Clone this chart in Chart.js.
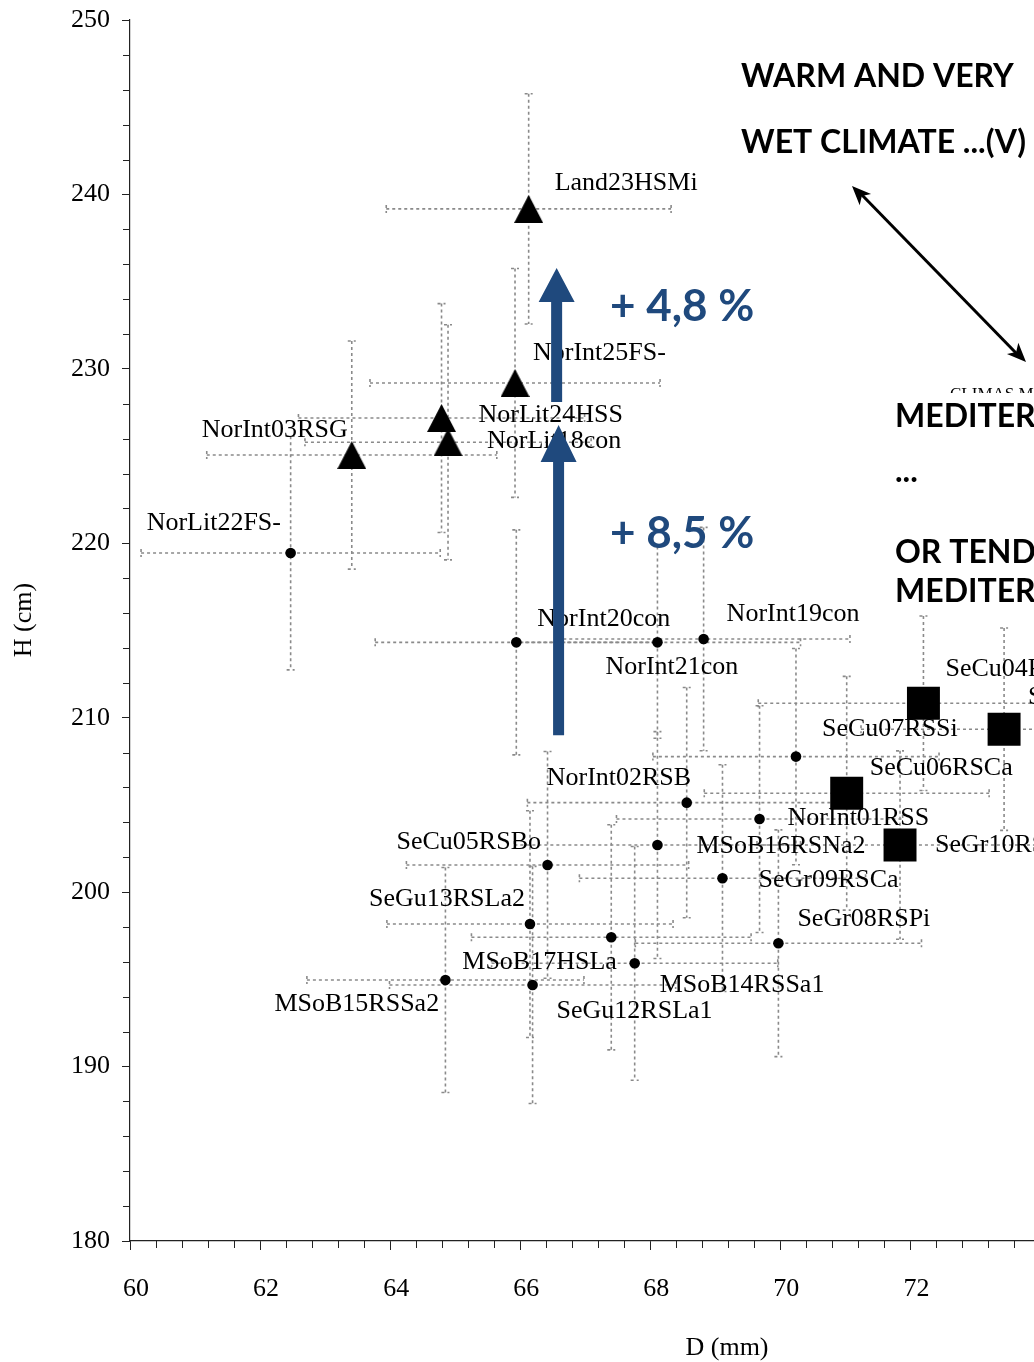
<!DOCTYPE html>
<html>
<head>
<meta charset="utf-8">
<script src="https://cdn.jsdelivr.net/npm/chart.js@4.4.1/dist/chart.umd.min.js"></script>
<style>
  body { margin: 0; background: #fff; }
  #wrap { width: 1034px; height: 1362px; }
</style>
</head>
<body>
<div id="wrap"><canvas id="chart" width="1034" height="1362"></canvas></div>
<script>
// triangles
const triNames = ['Land23HSMi', 'NorInt25FS-', 'NorLit24HSS', 'NorLit18con', 'NorInt03RSG'];
const triD = [66.13, 65.92, 64.79, 64.89, 63.41];
const triH = [239.17, 229.19, 227.18, 225.79, 225.06];
const triDerr = [2.19, 2.23, 2.2, 2.2, 2.23];
const triHerr = [6.6, 6.56, 6.56, 6.74, 6.54];

// circles
const cirNames = ['NorLit22FS-', 'NorInt20con', 'NorInt21con', 'NorInt19con', 'SeCu07RSSi', 'NorInt02RSB',
  'NorInt01RSS', 'MSoB16RSNa2', 'SeCu05RSBo', 'SeGr09RSCa', 'SeGu13RSLa2', 'MSoB17HSLa',
  'SeGr08RSPi', 'MSoB14RSSa1', 'MSoB15RSSa2', 'SeGu12RSLa1'];
const cirD = [62.47, 65.94, 68.11, 68.82, 70.24, 68.56, 69.68, 68.11, 66.42, 69.11, 66.15, 67.40, 69.97, 67.76, 64.85, 66.19];
const cirH = [219.44, 214.32, 214.32, 214.51, 207.77, 205.13, 204.19, 202.70, 201.56, 200.80, 198.17, 197.41, 197.07, 195.92, 194.96, 194.68];
const cirDerr = [2.3, 2.17, 2.2, 2.25, 2.2, 2.45, 2.2, 2.2, 2.17, 2.2, 2.2, 2.15, 2.2, 2.2, 2.13, 2.2];
const cirHerr = [6.7, 6.45, 5.5, 6.4, 6.2, 6.6, 6.5, 6.5, 6.5, 6.5, 6.5, 6.45, 6.5, 6.7, 6.45, 6.8];

// squares
const sqNames = ['SeCu04RS', 'SeCu03RS', 'SeCu06RSCa', 'SeGr10RS'];
const sqD = [72.20, 73.44, 71.02, 71.84];
const sqH = [210.83, 209.34, 205.67, 202.70];
const sqDerr = [2.54, 2.2, 2.19, 2.2];
const sqHerr = [5.0, 5.8, 6.7, 5.4];

// label offsets from the marker, px (left edge of text, text middle)
const triLab = [[26, -26], [18, -30], [37, -3], [39, -1], [-150, -25]];
const cirLab = [[-144, -30], [21, -23], [-52, 25], [23, -25], [26, -27], [-140, -24], [28, -1], [39, 1],
  [-151, -23], [36, 2], [-161, -25], [-149, 25], [19, -24], [25, 22], [-171, 24], [24, 26]];
const sqLab = [[22, -34], [24, -32], [23, -25], [35, 0]];

const xTicks = [60, 62, 64, 66, 68, 70, 72];
const yTicks = [180, 190, 200, 210, 220, 230, 240, 250];

const groups = [
  { names: triNames, d: triD, h: triH, dErr: triDerr, hErr: triHerr, lab: triLab },
  { names: cirNames, d: cirD, h: cirH, dErr: cirDerr, hErr: cirHerr, lab: cirLab },
  { names: sqNames, d: sqD, h: sqH, dErr: sqDerr, hErr: sqHerr, lab: sqLab }
];

const blue = '#1f497d';
const serif = '"Liberation Serif", "Times New Roman", serif';

// triangle marker centred on its box, like Excel
const tri = document.createElement('canvas');
tri.width = 29; tri.height = 28;
const tc = tri.getContext('2d');
tc.fillStyle = '#000';
tc.beginPath(); tc.moveTo(14.5, 0); tc.lineTo(29, 28); tc.lineTo(0, 28); tc.closePath(); tc.fill();

function pts(d, h) { return d.map((v, i) => ({ x: v, y: h[i] })); }

function blockArrow(ctx, cx, yTail, yTip, shaftW, headW, headH) {
  ctx.beginPath();
  ctx.moveTo(cx - shaftW / 2, yTail);
  ctx.lineTo(cx - shaftW / 2, yTip + headH);
  ctx.lineTo(cx - headW / 2, yTip + headH);
  ctx.lineTo(cx, yTip);
  ctx.lineTo(cx + headW / 2, yTip + headH);
  ctx.lineTo(cx + shaftW / 2, yTip + headH);
  ctx.lineTo(cx + shaftW / 2, yTail);
  ctx.closePath();
  ctx.fill();
}

function head(ctx, x, y, ang) {
  const L = 19, W = 8;
  const bx = x - Math.cos(ang) * L, by = y - Math.sin(ang) * L;
  ctx.beginPath();
  ctx.moveTo(x, y);
  ctx.lineTo(bx + Math.sin(ang) * W, by - Math.cos(ang) * W);
  ctx.lineTo(bx + Math.cos(ang) * 5, by + Math.sin(ang) * 5);
  ctx.lineTo(bx - Math.sin(ang) * W, by + Math.cos(ang) * W);
  ctx.closePath();
  ctx.fill();
}

const extras = {
  id: 'extras',
  beforeDatasetsDraw(chart) {
    const { ctx, scales: { x, y } } = chart;
    ctx.save();
    // minor ticks
    ctx.strokeStyle = '#222';
    ctx.lineWidth = 1;
    ctx.beginPath();
    for (let k = 0; k * 0.4 + 60 < x.max; k++) {
      if (k % 5 === 0) continue;
      const px = Math.round(x.getPixelForValue(60 + k * 0.4)) + 0.5;
      ctx.moveTo(px, y.bottom); ctx.lineTo(px, y.bottom + 7);
    }
    for (let v = 182; v < 250; v += 2) {
      if (v % 10 === 0) continue;
      const py = Math.round(y.getPixelForValue(v)) + 0.5;
      ctx.moveTo(x.left - 7, py); ctx.lineTo(x.left, py);
    }
    ctx.stroke();

    // error bars
    ctx.strokeStyle = '#8a8a8a';
    ctx.lineWidth = 1.6;
    ctx.setLineDash([3, 3]);
    groups.forEach(g => {
      g.d.forEach((d, i) => {
        const px = x.getPixelForValue(d), py = y.getPixelForValue(g.h[i]);
        const x0 = x.getPixelForValue(d - g.dErr[i]), x1 = x.getPixelForValue(d + g.dErr[i]);
        const y0 = y.getPixelForValue(g.h[i] + g.hErr[i]), y1 = y.getPixelForValue(g.h[i] - g.hErr[i]);
        ctx.beginPath();
        ctx.moveTo(x0, py); ctx.lineTo(x1, py);
        ctx.moveTo(x0, py - 4); ctx.lineTo(x0, py + 4);
        ctx.moveTo(x1, py - 4); ctx.lineTo(x1, py + 4);
        ctx.moveTo(px, y0); ctx.lineTo(px, y1);
        ctx.moveTo(px - 4, y0); ctx.lineTo(px + 4, y0);
        ctx.moveTo(px - 4, y1); ctx.lineTo(px + 4, y1);
        ctx.stroke();
      });
    });
    ctx.restore();
  },
  afterDatasetsDraw(chart) {
    const { ctx, scales: { x, y } } = chart;
    ctx.save();
    // point labels
    ctx.fillStyle = '#000';
    ctx.font = '26px ' + serif;
    ctx.textBaseline = 'middle';
    ctx.textAlign = 'left';
    groups.forEach(g => {
      g.names.forEach((n, i) => {
        const px = x.getPixelForValue(g.d[i]), py = y.getPixelForValue(g.h[i]);
        ctx.fillText(n, px + g.lab[i][0], py + g.lab[i][1]);
      });
    });

    // axis titles
    ctx.textAlign = 'center';
    ctx.fillText('D (mm)', 727, 1348);
    ctx.save();
    ctx.translate(24, 620);
    ctx.rotate(-Math.PI / 2);
    ctx.fillText('H (cm)', 0, 0);
    ctx.restore();

    // blue growth arrows
    ctx.fillStyle = blue;
    blockArrow(ctx, x.getPixelForValue(66.56), y.getPixelForValue(228.1), y.getPixelForValue(235.78), 11, 36, 34);
    blockArrow(ctx, x.getPixelForValue(66.59), y.getPixelForValue(209.0), y.getPixelForValue(226.78), 11, 36, 37);
    ctx.textAlign = 'left';
    ctx.textBaseline = 'alphabetic';
    ctx.font = 'bold 44px Lato, "Open Sans", sans-serif';
    ctx.fillText('+ 4,8 %', 610, 321);
    ctx.fillText('+ 8,5 %', 610, 548);

    // climate captions
    ctx.fillStyle = '#000';
    ctx.font = 'bold 32px Lato, "Open Sans", sans-serif';
    ctx.fillText('WARM AND VERY', 741, 87);
    ctx.fillText('WET CLIMATE ...(V)', 741, 153);
    ctx.fillText('MEDITERRANEAN', 895, 427);
    ctx.fillText('...', 895, 482);
    ctx.fillText('OR TENDING TO', 895, 563);
    ctx.fillText('MEDITERRANEAN', 895, 602);

    ctx.save();
    ctx.beginPath();
    ctx.rect(0, 0, 1034, 393);
    ctx.clip();
    ctx.font = '17px ' + serif;
    ctx.fillText('CLIMAS MEDITERRÁNEOS', 950, 399);
    ctx.restore();

    // double arrow
    ctx.strokeStyle = '#000';
    ctx.lineWidth = 3;
    ctx.beginPath();
    ctx.moveTo(862, 195); ctx.lineTo(1016, 353);
    ctx.stroke();
    const ang = Math.atan2(362 - 186, 1026 - 852);
    head(ctx, 1026, 362, ang);
    head(ctx, 852, 186, ang + Math.PI);
    ctx.restore();
  }
};

new Chart(document.getElementById('chart'), {
  type: 'scatter',
  data: {
    datasets: [
      { label: 'tri', data: pts(triD, triH), pointStyle: tri, pointRadius: 15 },
      { label: 'cir', data: pts(cirD, cirH), pointStyle: 'circle', pointRadius: 5.3,
        backgroundColor: '#000', borderWidth: 0 },
      { label: 'sq', data: pts(sqD, sqH), pointStyle: 'rect', pointRadius: 23.3,
        backgroundColor: '#000', borderWidth: 0 }
    ]
  },
  options: {
    responsive: false,
    animation: false,
    events: [],
    layout: { autoPadding: false, padding: { top: 20, right: 0, left: 0, bottom: 0 } },
    plugins: { legend: { display: false }, tooltip: { enabled: false } },
    scales: {
      x: {
        type: 'linear', min: 60, max: 73.9,
        afterFit(s) { s.height = 121; s.paddingLeft = 0; s.paddingRight = 0; },
        afterBuildTicks(s) { s.ticks = xTicks.map(v => ({ value: v })); },
        ticks: { color: '#000', font: { family: serif, size: 26 }, padding: 24, labelOffset: 6, includeBounds: false },
        grid: { drawOnChartArea: false, tickLength: 9, tickColor: '#222' },
        border: { color: '#222', width: 1.2 }
      },
      y: {
        min: 180, max: 250,
        afterFit(s) { s.width = 130; s.paddingTop = 0; s.paddingBottom = 0; },
        afterBuildTicks(s) { s.ticks = yTicks.map(v => ({ value: v })); },
        ticks: { color: '#000', font: { family: serif, size: 26 }, padding: 12 },
        grid: { drawOnChartArea: false, tickLength: 8, tickColor: '#222' },
        border: { color: '#222', width: 1.2 }
      }
    }
  },
  plugins: [extras]
});
</script>
</body>
</html>
